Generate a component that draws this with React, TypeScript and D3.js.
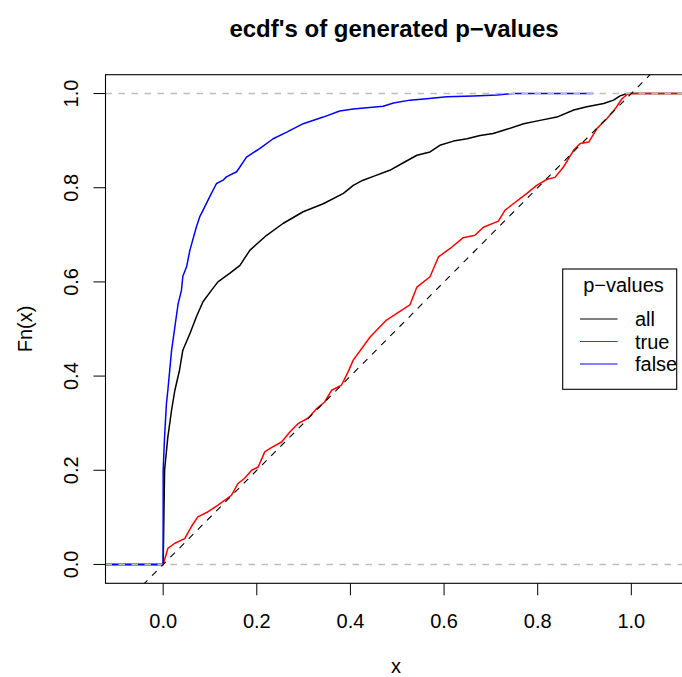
import React, { useEffect, useRef } from 'react';
import * as d3 from 'd3';

// ecdf curves as [x, Fn(x)]
const ecdfAll: [number, number][] = [
  [-0.16, 0], [0, 0], [0.003, 0.2], [0.01, 0.271], [0.018, 0.328], [0.025, 0.37], [0.035, 0.413],
  [0.042, 0.455], [0.057, 0.49], [0.071, 0.526], [0.085, 0.558], [0.103, 0.582], [0.117, 0.6],
  [0.142, 0.618], [0.164, 0.635], [0.185, 0.667], [0.221, 0.699], [0.256, 0.724], [0.299, 0.749],
  [0.342, 0.766], [0.385, 0.788], [0.406, 0.805], [0.427, 0.816], [0.449, 0.824], [0.484, 0.837],
  [0.513, 0.853], [0.542, 0.869], [0.57, 0.876], [0.591, 0.89], [0.62, 0.899], [0.649, 0.904],
  [0.677, 0.911], [0.705, 0.915], [0.734, 0.924], [0.77, 0.936], [0.805, 0.943], [0.841, 0.95],
  [0.877, 0.965], [0.905, 0.972], [0.941, 0.979], [0.962, 0.986], [0.976, 0.995], [0.991, 1],
  [1.16, 1],
];

const ecdfTrue: [number, number][] = [
  [-0.16, 0], [0, 0], [0.01, 0.034], [0.025, 0.045], [0.046, 0.055], [0.06, 0.08], [0.074, 0.101],
  [0.096, 0.112], [0.117, 0.126], [0.146, 0.147], [0.16, 0.172], [0.174, 0.183], [0.189, 0.2],
  [0.203, 0.207], [0.217, 0.239], [0.231, 0.248], [0.253, 0.26], [0.271, 0.282], [0.288, 0.299],
  [0.31, 0.311], [0.328, 0.331], [0.345, 0.345], [0.36, 0.37], [0.381, 0.381], [0.395, 0.409],
  [0.406, 0.434], [0.442, 0.483], [0.477, 0.519], [0.527, 0.551], [0.542, 0.589], [0.57, 0.611],
  [0.588, 0.653], [0.613, 0.671], [0.641, 0.694], [0.666, 0.699], [0.684, 0.716], [0.716, 0.729],
  [0.73, 0.752], [0.748, 0.766], [0.777, 0.788], [0.798, 0.805], [0.82, 0.818], [0.837, 0.822],
  [0.855, 0.844], [0.877, 0.88], [0.891, 0.894], [0.909, 0.897], [0.927, 0.926], [0.948, 0.947],
  [0.966, 0.968], [0.98, 0.989], [0.991, 0.998], [0.998, 1], [1.16, 1],
];

const ecdfFalse: [number, number][] = [
  [-0.16, 0], [0, 0], [0, 0.2], [0.003, 0.271], [0.007, 0.342], [0.01, 0.37], [0.014, 0.413],
  [0.018, 0.455], [0.021, 0.476], [0.028, 0.526], [0.032, 0.554], [0.039, 0.582], [0.042, 0.612],
  [0.05, 0.632], [0.057, 0.667], [0.071, 0.717], [0.078, 0.738], [0.085, 0.752], [0.103, 0.788],
  [0.114, 0.809], [0.128, 0.816], [0.135, 0.823], [0.157, 0.834], [0.178, 0.865], [0.206, 0.883],
  [0.235, 0.904], [0.264, 0.918], [0.299, 0.936], [0.342, 0.95], [0.377, 0.963], [0.406, 0.967],
  [0.435, 0.97], [0.47, 0.973], [0.492, 0.98], [0.527, 0.986], [0.563, 0.989], [0.606, 0.993],
  [0.663, 0.995], [0.713, 0.997], [0.748, 1], [0.919, 1],
];

const xTicks = [0, 0.2, 0.4, 0.6, 0.8, 1.0];
const yTicks = [0, 0.2, 0.4, 0.6, 0.8, 1.0];
const legendLabels = ['all', 'true', 'false'];
const legendColors = ['black', 'red', 'blue'];

const W = 682;
const H = 677;
const FONT = '"Liberation Sans", Arial, Helvetica, sans-serif';
const FS = 20;

const App: React.FC = () => {
  const svgRef = useRef<SVGSVGElement>(null);

  useEffect(() => {
    const svg = d3.select(svgRef.current);
    svg.selectAll('*').remove();

    const box = { left: 105.5, right: 689, top: 74.7, bottom: 583.3 };

    const x = d3.scaleLinear().domain([-0.1232, 1.1232]).range([box.left, box.right]);
    const y = d3.scaleLinear().domain([-0.04, 1.04]).range([box.bottom, box.top]);

    svg.append('defs').append('clipPath').attr('id', 'plotclip')
      .append('rect')
      .attr('x', box.left).attr('y', box.top)
      .attr('width', box.right - box.left).attr('height', box.bottom - box.top);

    const plot = svg.append('g').attr('clip-path', 'url(#plotclip)');

    const line = d3.line<[number, number]>()
      .x(d => x(d[0]))
      .y(d => y(d[1]));

    const series: [[number, number][], string][] = [
      [ecdfAll, 'black'],
      [ecdfTrue, 'red'],
      [ecdfFalse, 'blue'],
    ];
    series.forEach(([data, color]) => {
      plot.append('path')
        .attr('d', line(data))
        .attr('fill', 'none')
        .attr('stroke', color)
        .attr('stroke-width', 1.5)
        .attr('stroke-linejoin', 'round');
    });

    // reference lines
    [0, 1].forEach(v => {
      plot.append('line')
        .attr('x1', box.left).attr('x2', box.right)
        .attr('y1', y(v)).attr('y2', y(v))
        .attr('stroke', '#bebebe')
        .attr('stroke-width', 1.5)
        .attr('stroke-dasharray', '6.5,6.5');
    });
    plot.append('line')
      .attr('x1', x(-0.2)).attr('y1', y(-0.2))
      .attr('x2', x(1.2)).attr('y2', y(1.2))
      .attr('stroke', 'black')
      .attr('stroke-width', 1.1)
      .attr('stroke-dasharray', '6.5,6.5');

    // box
    svg.append('rect')
      .attr('x', box.left).attr('y', box.top)
      .attr('width', box.right - box.left).attr('height', box.bottom - box.top)
      .attr('fill', 'none').attr('stroke', 'black').attr('stroke-width', 1.1);

    // x axis
    const gx = svg.append('g');
    gx.selectAll('line')
      .data(xTicks)
      .join('line')
      .attr('x1', d => x(d)).attr('x2', d => x(d))
      .attr('y1', box.bottom).attr('y2', box.bottom + 12)
      .attr('stroke', 'black');
    gx.selectAll('text')
      .data(xTicks)
      .join('text')
      .attr('x', d => x(d)).attr('y', 627.5)
      .attr('text-anchor', 'middle')
      .attr('font-family', FONT).attr('font-size', FS)
      .text(d => d.toFixed(1));

    // y axis
    const gy = svg.append('g');
    gy.selectAll('line')
      .data(yTicks)
      .join('line')
      .attr('x1', box.left - 12).attr('x2', box.left)
      .attr('y1', d => y(d)).attr('y2', d => y(d))
      .attr('stroke', 'black');
    gy.selectAll('text')
      .data(yTicks)
      .join('text')
      .attr('transform', d => `translate(78,${y(d)}) rotate(-90)`)
      .attr('text-anchor', 'middle')
      .attr('font-family', FONT).attr('font-size', FS)
      .text(d => d.toFixed(1));

    // titles
    svg.append('text')
      .attr('x', 394).attr('y', 37)
      .attr('text-anchor', 'middle')
      .attr('font-family', FONT).attr('font-size', 24).attr('font-weight', 'bold')
      .text("ecdf's of generated p\u2212values");
    svg.append('text')
      .attr('x', 396).attr('y', 673)
      .attr('text-anchor', 'middle')
      .attr('font-family', FONT).attr('font-size', FS)
      .text('x');
    svg.append('text')
      .attr('transform', `translate(32,${y(0.5)}) rotate(-90)`)
      .attr('text-anchor', 'middle')
      .attr('font-family', FONT).attr('font-size', FS)
      .text('Fn(x)');

    // legend
    const lg = svg.append('g');
    lg.append('rect')
      .attr('x', 562.7).attr('y', 269)
      .attr('width', 114).attr('height', 120.3)
      .attr('fill', 'white').attr('stroke', 'black').attr('stroke-width', 1.1);
    lg.append('text')
      .attr('x', 623.5).attr('y', 292)
      .attr('text-anchor', 'middle')
      .attr('font-family', FONT).attr('font-size', FS)
      .text('p\u2212values');
    const rowY = d3.scalePoint<string>().domain(legendLabels).range([319, 364]);
    legendLabels.forEach((lab, i) => {
      const yy = rowY(lab) ?? 0;
      lg.append('line')
        .attr('x1', 580).attr('x2', 617.5)
        .attr('y1', yy).attr('y2', yy)
        .attr('stroke', legendColors[i]).attr('stroke-width', 1);
      lg.append('text')
        .attr('x', 635).attr('y', yy)
        .attr('dy', '0.35em')
        .attr('font-family', FONT).attr('font-size', FS)
        .text(lab);
    });
  }, []);

  return (
    <svg
      ref={svgRef}
      width={W}
      height={H}
      style={{ position: 'absolute', left: 0, top: 0, background: 'white' }}
    />
  );
};

export default App;
